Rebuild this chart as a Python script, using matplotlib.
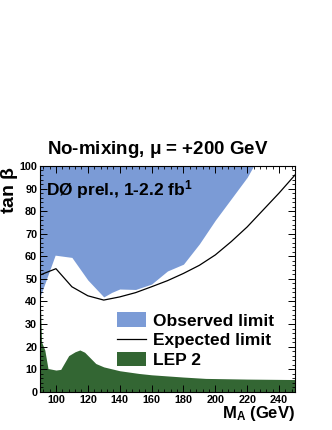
import matplotlib
matplotlib.use("Agg")
from matplotlib import pyplot as plt
from matplotlib.patches import Patch
from matplotlib.lines import Line2D
from matplotlib.ticker import MultipleLocator

plt.rcParams['font.family'] = ['Liberation Sans', 'DejaVu Sans']
plt.rcParams['font.weight'] = 'bold'
plt.rcParams['mathtext.fontset'] = 'custom'
plt.rcParams['mathtext.rm'] = 'Liberation Sans:bold'
plt.rcParams['mathtext.it'] = 'Liberation Sans:bold'
plt.rcParams['mathtext.bf'] = 'Liberation Sans:bold'

# observed exclusion (excluded above the curve)
obs_ma = [90, 99.5, 110, 120, 130, 135, 140, 150, 160, 170, 180, 190, 200, 210, 220, 224]
obs_tb = [42, 60.5, 59.5, 49.5, 42, 44, 45.5, 45.3, 47.7, 53.5, 56.5, 65.5, 76, 85.5, 95, 100]

# expected limit
exp_ma = [90, 100, 110, 120, 130, 140, 150, 160, 170, 180, 190, 200, 210, 220, 230, 240, 250]
exp_tb = [51.7, 54.5, 46.5, 42.5, 40.6, 42, 43.9, 46.5, 49.2, 52.4, 56, 60.6, 66.5, 73, 80.5, 88, 96]

# LEP 2 exclusion (excluded below the curve)
lep_ma = [90, 91, 93, 95, 100, 103, 108, 112, 115, 118, 125, 130, 140, 152, 160, 180, 194, 220, 250]
lep_tb = [44, 22, 18.5, 10.3, 9.6, 9.9, 16, 17.7, 18.5, 17.5, 12.5, 11, 9.3, 8.1, 7.5, 6.5, 5.9, 5.6, 5.4]

blue = "#7b9bd6"
green = "#336633"

fig = plt.figure(figsize=(3.32, 4.30), dpi=100)
ax = fig.add_axes([0.1205, 0.089, 0.768, 0.525])

ax.fill_between(obs_ma, obs_tb, 100, color=blue, lw=0)
ax.fill_between(lep_ma, 0, lep_tb, color=green, lw=0)
ax.plot(exp_ma, exp_tb, color="black", lw=0.9)

ax.set_xlim(90, 250)
ax.set_ylim(0, 100)
ax.xaxis.set_major_locator(MultipleLocator(20))
ax.xaxis.set_minor_locator(MultipleLocator(4))
ax.yaxis.set_major_locator(MultipleLocator(10))
ax.yaxis.set_minor_locator(MultipleLocator(2))
ax.tick_params(which="both", direction="in", top=True, right=True, labelsize=7.8, pad=2)
ax.tick_params(which="major", length=5, width=0.7)
ax.tick_params(which="minor", length=2.5, width=0.6)
for lab in ax.get_xticklabels() + ax.get_yticklabels():
    lab.set_fontweight("bold")
for s in ax.spines.values():
    s.set_linewidth(0.8)

fig.text(0.476, 0.641, r"No-mixing, $\mu$ = +200 GeV", ha="center", va="baseline", fontsize=13.5, fontweight="bold")
ax.text(0.025, 0.895, r"DØ prel., 1-2.2 fb$^{1}$", transform=ax.transAxes, ha="left", va="center", fontsize=12.5, fontweight="bold")
fig.text(0.028, 0.614, r"tan $\beta$", rotation=90, ha="center", va="top", fontsize=14, fontweight="bold")
fig.text(0.888, 0.028, r"M$_{\mathregular{A}}$ (GeV)", ha="right", va="baseline", fontsize=12, fontweight="bold")

handles = [Patch(color=blue, lw=0), Line2D([], [], color="black", lw=0.9), Patch(color=green, lw=0)]
labels = ["Observed limit", "Expected limit", "LEP 2"]
ax.legend(handles, labels, loc="lower left", bbox_to_anchor=(0.302, 0.105), frameon=False,
          prop={"weight": "bold", "size": 12.5}, handlelength=1.67, handleheight=0.9,
          handletextpad=0.4, labelspacing=0.2, borderpad=0, borderaxespad=0)

fig.savefig("out.png", dpi=100)
